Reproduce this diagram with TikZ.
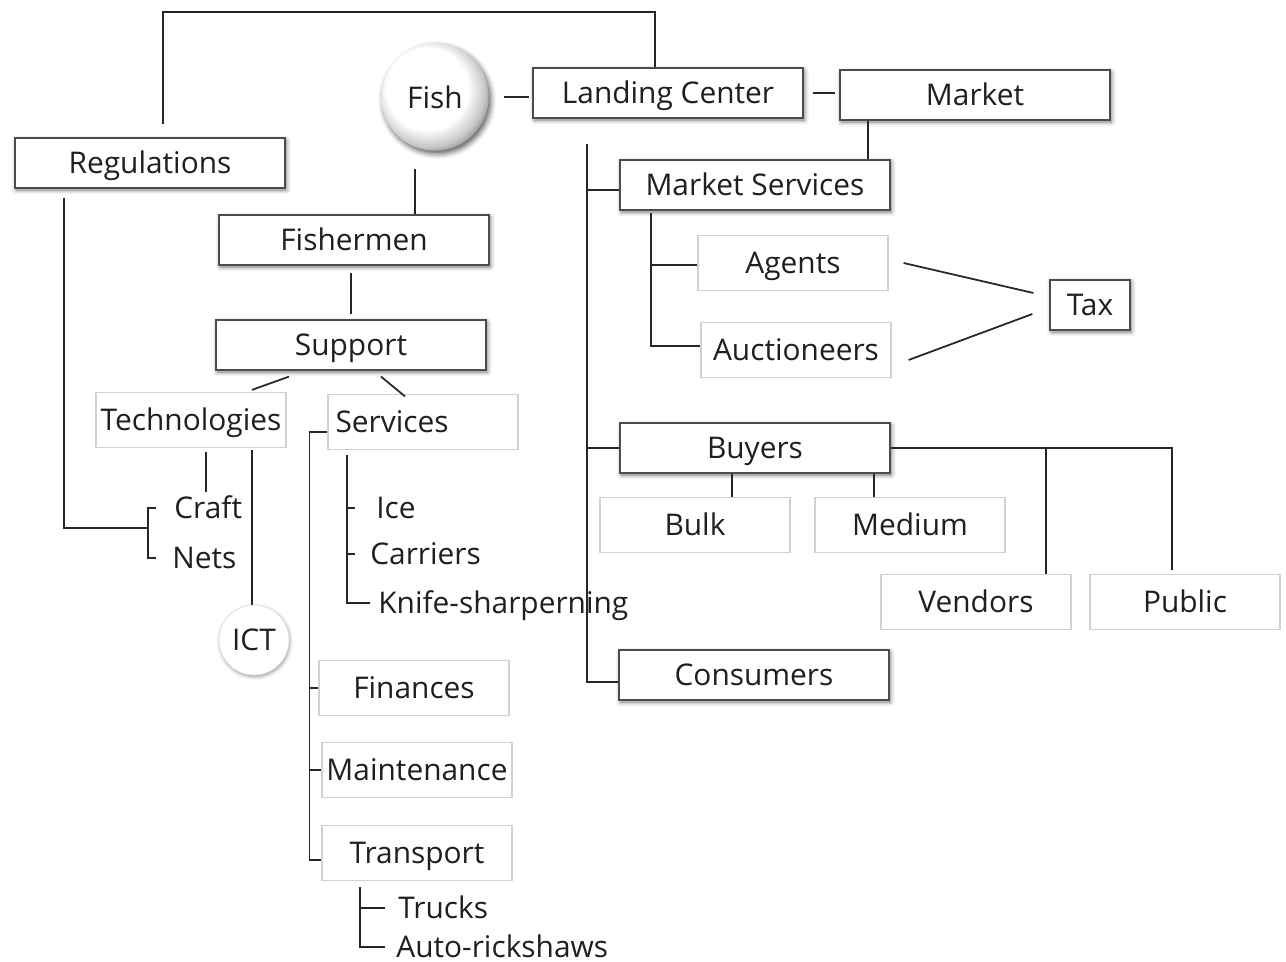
\documentclass[tikz,border=0pt]{standalone}
\usepackage{fontspec}
\setmainfont{Open Sans}
\usetikzlibrary{shadows.blur}
\pgfdeclareradialshading{fishball}{\pgfpoint{-6bp}{6bp}}{color(0bp)=(white); color(19bp)=(white); color(26bp)=(black!22); color(32bp)=(black!62); color(50bp)=(black!62)}

\begin{document}
\begin{tikzpicture}[x=0.02cm, y=-0.02cm, font=\fontsize{17}{20}\selectfont, text=black!88,
    dbox/.style={draw=black!70, fill=white, line width=0.7pt, minimum width=5.4cm, minimum height=1cm, inner sep=1pt, text height=1.3em, text depth=0.1em, blur shadow={shadow xshift=0.8pt, shadow yshift=-1.2pt, shadow blur radius=2.5pt, shadow opacity=55}},
    lbox/.style={draw=black!18, fill=white, line width=0.7pt, minimum width=3.8cm, minimum height=1.1cm, inner sep=1pt, text height=1.3em, text depth=0.1em},
    leaf/.style={anchor=west, inner sep=0pt, text height=1.15em, text depth=0pt},
    link/.style={line width=1pt, black!85}]
            \useasboundingbox (0,0) rectangle (1286,962);

            \node[circle, minimum size=2.15cm, inner sep=0pt, shading=fishball, blur shadow={shadow xshift=1.2pt, shadow yshift=-1.8pt, shadow blur radius=3pt, shadow opacity=65}] (a1) at (435,97) {Fish};
            \node[dbox] (a2) at (668,93) {Landing Center};
            \node[dbox] (a3) at (975,95) {Market};
            \node[dbox] (a4) at (150,163) {Regulations};
            \node[dbox] (a5) at (354,240) {Fishermen};
            \node[dbox] (a6) at (351,345) {Support};
            \node[lbox] (a7) at (191,420) {Technologies};
            \node[lbox, text width=3.5cm, align=left] (a8) at (423,422) {Services};
            \node[leaf] (a9) at (174,508) {Craft};
            \node[leaf] (a10) at (172,558) {Nets};
            \node[circle, minimum size=1.4cm, inner sep=0pt, fill=white, draw=black!12, blur shadow={shadow xshift=0.5pt, shadow yshift=-1pt, shadow blur radius=2pt, shadow opacity=40}] (a11) at (254,640) {ICT};
            \node[leaf] (a12) at (376,508) {Ice};
            \node[leaf] (a13) at (370,554) {Carriers};
            \node[leaf] (a14) at (378,603) {Knife-sharperning};
            \node[lbox] (a15) at (414,688) {Finances};
            \node[lbox] (a16) at (417,770) {Maintenance};
            \node[lbox] (a17) at (417,853) {Transport};
            \node[leaf] (a18) at (398,908) {Trucks};
            \node[leaf] (a19) at (396,947) {Auto-rickshaws};
            \node[dbox] (a20) at (755,185) {Market Services};
            \node[lbox] (a21) at (793,263) {Agents};
            \node[lbox] (a22) at (796,350) {Auctioneers};
            \node[dbox, minimum width=1.6cm] (a23) at (1090,305) {Tax};
            \node[dbox] (a24) at (755,448) {Buyers};
            \node[lbox] (a25) at (695,525) {Bulk};
            \node[lbox] (a26) at (910,525) {Medium};
            \node[lbox] (a27) at (976,602) {Vendors};
            \node[lbox] (a28) at (1185,602) {Public};
            \node[dbox] (a29) at (754,675) {Consumers};

            \coordinate (c1) at (400,12);
            \coordinate (c2) at (148,528);

            \draw[link] ([xshift=.3cm]a1.east) -- ([xshift=-.06cm]a1.east -| a2.west);
            \draw[link] ([xshift=.18cm]a2.east) -- ([xshift=-.08cm]a2.east -| a3.west);
            \draw[link] ([xshift=.26cm,yshift=.26cm]a4.north) |- (c1) -| ([xshift=-.26cm]a2.north);
            \draw[link] ([xshift=-.4cm,yshift=-.36cm]a1.south) -- ([xshift=-.4cm]a1.south |- a5.north);
            \draw[link] ([yshift=-.14cm]a5.south -| a6.north) -- ([yshift=.1cm]a6.north);
            \draw[link] ([xshift=-1.24cm,yshift=-.12cm]a6.south) -- ([xshift=1.22cm,yshift=.04cm]a7.north);
            \draw[link] ([xshift=.6cm,yshift=-.12cm]a6.south) -- ([xshift=-.36cm,yshift=-.05cm]a8.north);
            \draw[link] ([xshift=.3cm,yshift=-.08cm]a7.south) -- ([xshift=.3cm,yshift=.12cm]a7.south |- a9.north);
            \draw[link] ([xshift=1.22cm,yshift=-.04cm]a7.south) -- ([xshift=1.22cm]a7.south |- a11.north);
            \draw[link] ([xshift=-1.72cm,yshift=-.18cm]a4.south) |- (c2);
            \draw[link] ([xshift=-.36cm]a9.west) -- ++(-8,0) |- ([xshift=-.32cm]a10.west);
            \draw[link] ([xshift=-1.52cm,yshift=-.1cm]a8.south) |- ([xshift=-.16cm]a14.west);
            \draw[link] ([xshift=-.42cm]a12.west) -- ++(-8,0);
            \draw[link] ([xshift=-.3cm]a13.west) -- ++(-8,0);
            \draw[link] ([yshift=-.2cm]a8.west) -- ++(-18,0) |- ([yshift=-.14cm]a17.west);
            \draw[link] (a15.west) -- ++(-9,0);
            \draw[link] (a16.west) -- ++(-12,0);
            \draw[link] ([xshift=-1.14cm,yshift=-.12cm]a17.south) |- ([xshift=-.22cm]a19.west);
            \draw[link] ([xshift=-.26cm]a18.west) -- ++(-25,0);
            \draw[link] ([xshift=-1.62cm,yshift=-.5cm]a2.south) |- ([yshift=-.14cm]a29.west);
            \draw[link] ([yshift=-.1cm]a20.west) -- ++(-33,0);
            \draw[link] (a24.west) -- ++(-33,0);
            \draw[link] ([xshift=-2.14cm]a3.south) -- ([xshift=-2.14cm]a3.south |- a20.north);
            \draw[link] ([xshift=-2.08cm,yshift=-.04cm]a20.south) |- ([yshift=.08cm]a22.west);
            \draw[link] ([yshift=-.04cm]a21.west) -- ++(-47,0);
            \draw[link] ([xshift=.3cm]a21.east) -- ([xshift=-.32cm,yshift=.24cm]a23.west);
            \draw[link] ([xshift=.34cm,yshift=-.2cm]a22.east) -- ([xshift=-.34cm,yshift=-.18cm]a23.west);
            \draw[link] ([xshift=-.46cm]a24.south) -- ([xshift=-.46cm]a24.south |- a25.north);
            \draw[link] ([xshift=2.38cm]a24.south) -- ([xshift=2.38cm]a24.south |- a26.north);
            \draw[link] (a24.east) -| ([xshift=-.26cm,yshift=.08cm]a28.north);
            \draw[link] ([xshift=1.4cm]a27.north) -- ([xshift=1.4cm]a27.north |- a24.east);
\end{tikzpicture}
\end{document}
